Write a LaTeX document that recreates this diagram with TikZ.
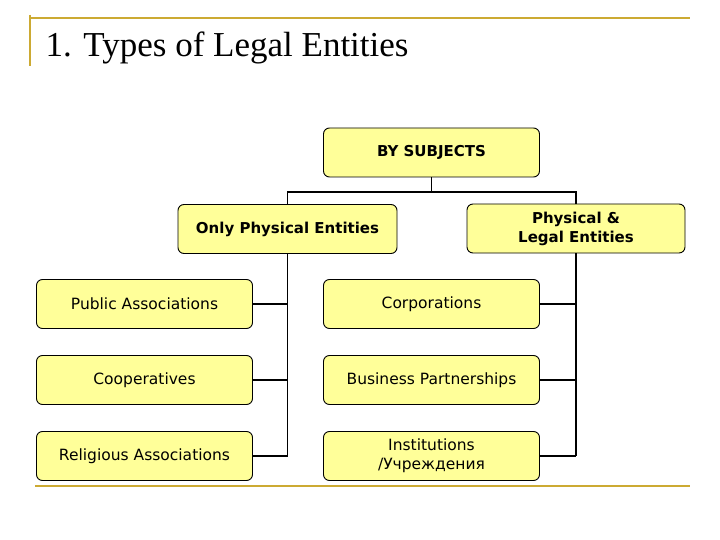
\documentclass[tikz,border=0pt]{standalone}
\usepackage{fontspec}
\setmainfont{DejaVu Sans}
\newfontfamily\titlefont{Liberation Serif}
\definecolor{boxfill}{HTML}{FFFF99}
\definecolor{gold}{HTML}{CCAA33}
\begin{document}
\begin{tikzpicture}[x=1pt,y=-1pt,
  box/.style={draw=black,fill=boxfill,rounded corners=6pt,line width=0.9pt,minimum width=216pt,minimum height=49pt,align=center,inner sep=2pt,font=\fontsize{15.5}{19}\selectfont},
  bbox/.style={box,font=\fontsize{15}{19}\selectfont\bfseries},
  conn/.style={line width=1.8pt},
  goldline/.style={gold,line width=1.5pt}]
\useasboundingbox (0,0) rectangle (720,540);
\draw[goldline] (30,15) -- (30,66);
\draw[goldline] (30,18) -- (690,18);
\draw[goldline] (35,486) -- (690,486);
\node[anchor=west,font=\titlefont\fontsize{35}{40}\selectfont] (title) at (42,48) {1. Types of Legal Entities};
\node[bbox] (bs) at (431.5,152.5) {BY SUBJECTS};
\node[bbox,minimum width=219pt] (ope) at (287.5,229) {Only Physical Entities};
\node[bbox,minimum width=218pt] (ple) at (576,228.5) {Physical \&\\Legal Entities};
\node[box] (pa) at (144.5,304) {Public Associations};
\node[box] (co) at (144.5,380) {Cooperatives};
\node[box] (ra) at (144.5,456) {Religious Associations};
\node[box] (corp) at (431.5,304) {Corporations};
\node[box] (bp) at (431.5,380) {Business Partnerships};
\node[box] (inst) at (431.5,456) {Institutions\\/Учреждения};
\coordinate (j) at (431.5,192);
\draw[conn] (bs.south) -- (j);
\draw[conn] (ope.north) -- (ope.north |- j) -- (ple.north |- j) -- (ple.north);
\draw[conn] (ope.south) -- (ope.south |- ra.east);
\draw[conn] (pa.east) -- (pa.east -| ope.south);
\draw[conn] (co.east) -- (co.east -| ope.south);
\draw[conn] (ra.east) -- (ra.east -| ope.south);
\draw[conn] (ple.south) -- (ple.south |- inst.east);
\draw[conn] (corp.east) -- (corp.east -| ple.south);
\draw[conn] (bp.east) -- (bp.east -| ple.south);
\draw[conn] (inst.east) -- (inst.east -| ple.south);
\end{tikzpicture}
\end{document}
